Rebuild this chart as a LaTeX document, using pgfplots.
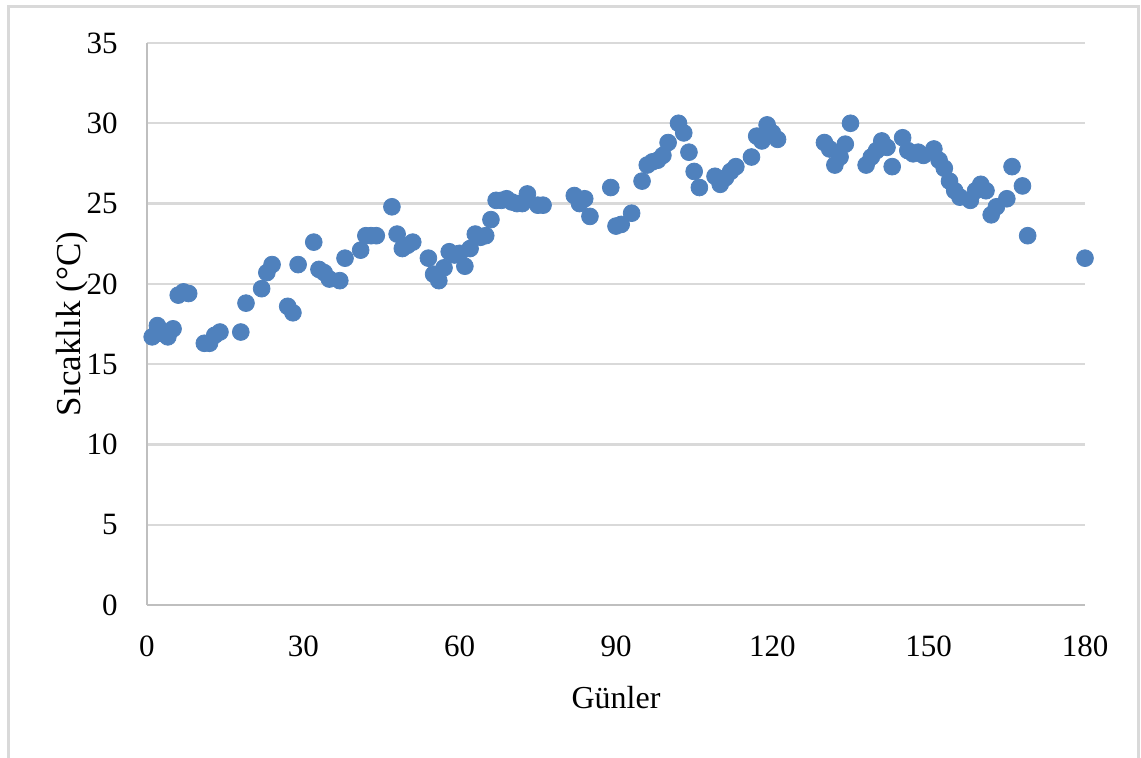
\documentclass[border=0pt]{standalone}
\usepackage{pgfplots}
\pgfplotsset{compat=1.18}
\usepackage{fontspec}
\setmainfont{Liberation Serif}
\definecolor{ptblue}{RGB}{79,129,189}
\definecolor{gridgray}{RGB}{217,217,217}
\definecolor{axgray}{RGB}{191,191,191}
\begin{document}
\begin{tikzpicture}
\begin{axis}[
  name=ax,
  scale only axis,
  width=469pt, height=281pt,
  xmin=0, xmax=180, ymin=0, ymax=35,
  xtick={0,30,...,180}, ytick={0,5,...,35},
  axis x line*=bottom, axis y line*=left,
  axis line style={axgray, line width=1pt, -},
  tick style={draw=none},
  ymajorgrids, grid style={gridgray, line width=1.2pt},
  /pgf/number format/assume math mode=true,
  tick label style={font=\fontsize{15.5}{18}\selectfont, text=black},
  yticklabel style={anchor=east, inner sep=0pt, xshift=-14.5pt},
  xticklabel style={anchor=north, inner sep=0pt, yshift=-15pt},
  xlabel={Günler}, ylabel={Sıcaklık (°C)},
  xlabel style={font=\fontsize{16}{19}\selectfont, at={(axis description cs:0.5,-0.1836)}, anchor=base},
  ylabel style={font=\fontsize{17.5}{20}\selectfont, at={(axis description cs:-0.0704,0.5)}, anchor=base},
  clip=false,
]
\addplot[only marks, mark=*, mark size=4.2pt, draw=ptblue, fill=ptblue] coordinates {
(1,16.7)(2,17.4)(3,16.9)(4,16.7)(5,17.2)(6,19.3)(7,19.5)(8,19.4)
(11,16.3)(12,16.3)(13,16.8)(14,17.0)(18,17.0)(19,18.8)(22,19.7)(23,20.7)(24,21.2)
(27,18.6)(28,18.2)(29,21.2)(32,22.6)(33,20.9)(34,20.7)(35,20.3)(37,20.2)(38,21.6)
(41,22.1)(42,23.0)(43,23.0)(44,23.0)(47,24.8)(48,23.1)(49,22.2)(50,22.4)(51,22.6)
(54,21.6)(55,20.6)(56,20.2)(57,21.0)(58,22.0)(59,21.8)(60,21.9)(61,21.1)(62,22.2)
(63,23.1)(64,22.9)(65,23.0)(66,24.0)(67,25.2)(68,25.2)(69,25.3)(70,25.1)(71,25.0)
(72,25.0)(73,25.6)(75,24.9)(76,24.9)(82,25.5)(83,25.0)(84,25.3)(85,24.2)
(89,26.0)(90,23.6)(91,23.7)(93,24.4)(95,26.4)(96,27.4)(97,27.6)(98,27.7)(99,28.0)
(100,28.8)(102,30.0)(103,29.4)(104,28.2)(105,27.0)(106,26.0)(109,26.7)(110,26.2)
(111,26.6)(112,27.0)(113,27.3)(116,27.9)(117,29.2)(118,28.9)(119,29.9)(120,29.4)
(121,29.0)(130,28.8)(131,28.4)(132,27.4)(133,27.9)(134,28.7)(135,30.0)
(138,27.4)(139,27.9)(140,28.3)(141,28.9)(142,28.5)(143,27.3)(145,29.1)(146,28.3)
(147,28.1)(148,28.2)(149,28.0)(151,28.4)(152,27.7)(153,27.2)(154,26.4)(155,25.8)
(156,25.4)(158,25.2)(159,25.8)(160,26.2)(161,25.8)(162,24.3)(163,24.8)(165,25.3)
(166,27.3)(168,26.1)(169,23.0)(180,21.6)
};
\end{axis}
\useasboundingbox ([xshift=-73.5pt,yshift=-76pt]ax.south west) rectangle ([xshift=28pt,yshift=21.5pt]ax.north east);
\draw[gridgray, line width=1.5pt] ([xshift=-69pt,yshift=-90pt]ax.south west) -- ([xshift=-69pt,yshift=18.5pt]ax.north west) -- ([xshift=26.5pt,yshift=18.5pt]ax.north east) -- ([xshift=26.5pt,yshift=-90pt]ax.south east);
\end{tikzpicture}
\end{document}
